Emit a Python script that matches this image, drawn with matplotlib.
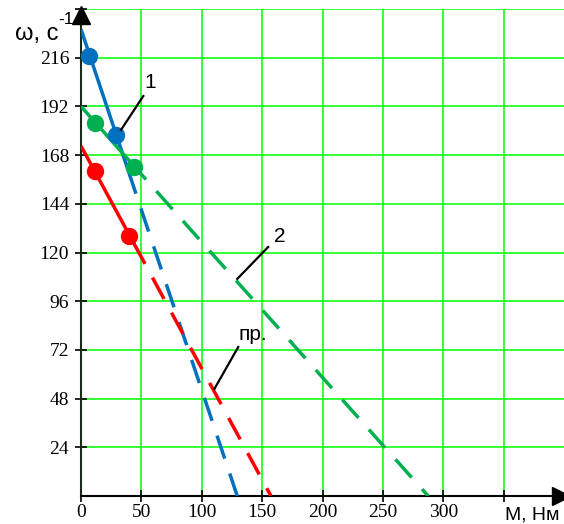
import numpy as np
import matplotlib.pyplot as plt

# characteristic lines: solid part (M, omega) and dashed extension down to omega = 0
blue_solid_M = [0, 45.5]
blue_solid_w = [230, 149]
blue_dash_M = [45.5, 129.4]
blue_dash_w = [149, 0]
blue_pts_M = [7, 29]
blue_pts_w = [217, 178]

green_solid_M = [0, 53.8]
green_solid_w = [192, 156]
green_dash_M = [53.8, 287.5]
green_dash_w = [156, 0]
green_pts_M = [11.6, 44]
green_pts_w = [184, 162]

red_solid_M = [0, 53]
red_solid_w = [172.5, 114.4]
red_dash_M = [53, 157.3]
red_dash_w = [114.4, 0]
red_pts_M = [11.6, 40]
red_pts_w = [160, 128]

x_ticks = [0, 50, 100, 150, 200, 250, 300, 350]
x_labels = ['0', '50', '100', '150', '200', '250', '300', '']
y_ticks = [24, 48, 72, 96, 120, 144, 168, 192, 216, 240]
y_labels = ['24', '48', '72', '96', '120', '144', '168', '192', '216', '']

BLUE = '#0070C0'
GREEN = '#00B050'
RED = '#FF0000'
GRID = '#00FF00'

fig = plt.figure(figsize=(5.64, 5.24), dpi=100)
ax = fig.add_axes([81 / 564, 28 / 524, 483 / 564, 487 / 524])
ax.set_xlim(0, 400)
ax.set_ylim(0, 240)

# grid
for gx in x_ticks[1:]:
    ax.axvline(gx, color=GRID, lw=1.1, zorder=0)
for gy in y_ticks:
    ax.axhline(gy, color=GRID, lw=1.1, zorder=0)

lw = 2.5
dash_style = (7, (7, 4.5))   # start with a gap after the solid part
for sM, sw, dM, dw, c in [(blue_solid_M, blue_solid_w, blue_dash_M, blue_dash_w, BLUE),
                          (green_solid_M, green_solid_w, green_dash_M, green_dash_w, GREEN),
                          (red_solid_M, red_solid_w, red_dash_M, red_dash_w, RED)]:
    ax.plot(sM, sw, color=c, lw=lw, solid_capstyle='butt', zorder=3)
    ax.plot(dM, dw, color=c, lw=lw, linestyle=dash_style, dash_capstyle='butt', zorder=3)

for pM, pw, c in [(blue_pts_M, blue_pts_w, BLUE),
                  (green_pts_M, green_pts_w, GREEN),
                  (red_pts_M, red_pts_w, RED)]:
    ax.plot(pM, pw, 'o', color=c, ms=11.5, zorder=4)

# leader lines and curve labels
ax.plot([33.1, 51.6], [180.4, 197.1], color='black', lw=1.6, zorder=5)
ax.text(57.5, 204, '1', fontsize=15, family='Liberation Sans', ha='center', va='center')
ax.plot([129.4, 155], [107, 122.7], color='black', lw=1.6, zorder=5)
ax.text(165, 128, '2', fontsize=15, family='Liberation Sans', ha='center', va='center')
ax.plot([110.4, 130.2], [52.7, 73.4], color='black', lw=1.6, zorder=5)
ax.text(142, 79.5, 'пр.', fontsize=15, family='Liberation Sans', ha='center', va='center')

# axes with arrows
for s in ['top', 'right']:
    ax.spines[s].set_visible(False)
ax.spines['left'].set_color('#1a2a1a')
ax.spines['left'].set_linewidth(1.5)
ax.spines['bottom'].set_color('black')
ax.spines['bottom'].set_linewidth(1.5)
ax.plot(397.5, 0, marker='>', color='black', ms=13, clip_on=False, zorder=6)
ax.plot(0, 237, marker='^', color='black', ms=13, clip_on=False, zorder=6)

ax.set_xticks(x_ticks)
ax.set_xticklabels(x_labels)
ax.set_yticks(y_ticks)
ax.set_yticklabels(y_labels)
ax.tick_params(direction='inout', length=9, width=1.2, colors='black')
ax.tick_params(axis='x', pad=1.5)
ax.tick_params(axis='y', pad=4)
for lbl in ax.get_xticklabels() + ax.get_yticklabels():
    lbl.set_fontfamily('Liberation Serif')
    lbl.set_fontsize(14)

fig.text(15 / 564, 1 - 34 / 524, 'ω, c', fontsize=17, family='Liberation Sans',
         ha='left', va='center')
fig.text(58 / 564, 1 - 19 / 524, '-1', fontsize=12.5, family='Liberation Sans',
         ha='left', va='center')
fig.text(532 / 564, 1 - 515 / 524, 'M, Нм', fontsize=14, family='Liberation Sans',
         ha='center', va='center')

fig.savefig('out.png', dpi=100)
